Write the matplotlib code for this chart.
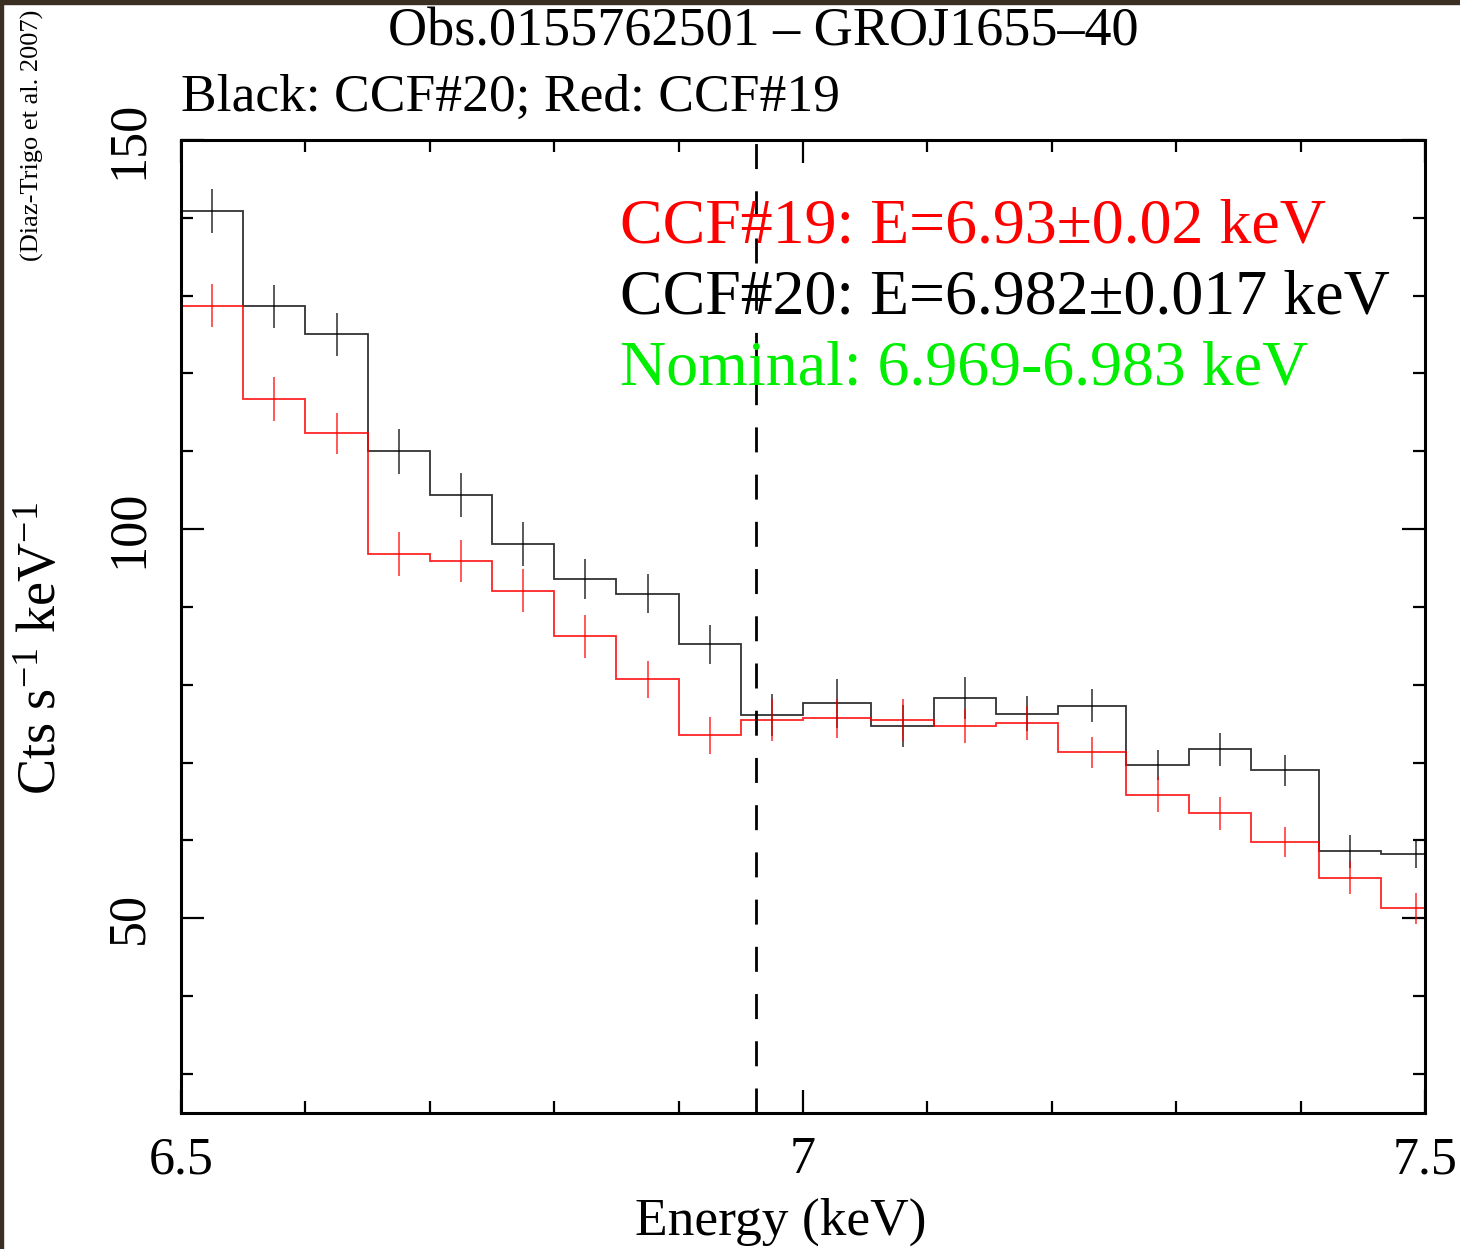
import matplotlib
matplotlib.use("Agg")
import matplotlib.pyplot as plt
import numpy as np
from matplotlib.patches import Rectangle
from matplotlib.ticker import FixedLocator, MultipleLocator

# energy bin edges (keV) and count rates per bin
BIN_EDGES = [6.50, 6.55, 6.60, 6.65, 6.70, 6.75, 6.80, 6.85, 6.90, 6.95, 7.00,
             7.055, 7.105, 7.155, 7.205, 7.26, 7.31, 7.36, 7.415, 7.465, 7.52]

CCF20_RATE = [140.9, 128.6, 125.0, 110.0, 104.4, 98.1, 93.6, 91.7, 85.2, 76.1,
              77.6, 74.7, 78.3, 76.3, 77.3, 69.7, 71.7, 69.0, 58.6, 58.3]
CCF20_ERR = [2.8, 2.8, 2.8, 2.9, 2.8, 2.8, 2.6, 2.5, 2.5, 2.7,
             3.1, 2.7, 2.7, 2.2, 2.1, 1.9, 2.1, 2.0, 2.1, 1.9]

CCF19_RATE = [128.7, 116.7, 112.3, 96.8, 95.9, 92.1, 86.2, 80.7, 73.5, 75.5,
              75.7, 75.5, 74.7, 75.1, 71.3, 65.9, 63.5, 59.8, 55.2, 51.3]
CCF19_ERR = [2.8, 2.8, 2.6, 2.8, 2.7, 2.8, 2.7, 2.4, 2.4, 2.7,
             2.5, 2.7, 2.2, 2.2, 2.0, 2.2, 2.1, 1.9, 2.1, 2.0]

LINE_ENERGY = 6.962
X_TICKS = [6.5, 7.0, 7.5]
X_TICK_LABELS = ["6.5", "7", "7.5"]
Y_TICKS = [50, 100, 150]

FIT_LABELS = [
    ("CCF#19: E=6.93\u00b10.02 keV", "#ff0000"),
    ("CCF#20: E=6.982\u00b10.017 keV", "black"),
    ("Nominal: 6.969-6.983 keV", "#00ee00"),
]

plt.rcParams["font.family"] = ["Liberation Serif", "DejaVu Serif"]
plt.rcParams["mathtext.fontset"] = "custom"
plt.rcParams["mathtext.rm"] = "Liberation Serif"
plt.rcParams["mathtext.it"] = "Liberation Serif:italic"

fig = plt.figure(figsize=(14.6, 12.49), dpi=100)
ax = fig.add_axes([0.124, 0.109, 0.852, 0.779])

edges = np.array(BIN_EDGES)
centers = 0.5 * (edges[:-1] + edges[1:])

ax.stairs(CCF20_RATE, edges, color="black", lw=1.3, alpha=0.8)
ax.errorbar(centers, CCF20_RATE, yerr=CCF20_ERR, fmt="none",
            ecolor="black", elinewidth=1.3, alpha=0.7)
ax.stairs(CCF19_RATE, edges, color="#ff0000", lw=1.3, alpha=0.85)
ax.errorbar(centers, CCF19_RATE, yerr=CCF19_ERR, fmt="none",
            ecolor="#ff0000", elinewidth=1.3, alpha=0.7)

ax.axvline(LINE_ENERGY, color="black", lw=2.0, dashes=(9, 8))

ax.set_xlim(6.5, 7.5)
ax.set_ylim(25, 150)

ax.xaxis.set_major_locator(FixedLocator(X_TICKS))
ax.set_xticklabels(X_TICK_LABELS)
ax.xaxis.set_minor_locator(MultipleLocator(0.1))
ax.yaxis.set_major_locator(FixedLocator(Y_TICKS))
ax.yaxis.set_minor_locator(MultipleLocator(10))

ax.tick_params(which="both", direction="in", top=True, right=True, width=1.6)
ax.tick_params(which="major", length=16.5, labelsize=37.5)
ax.tick_params(which="minor", length=8.5)
ax.tick_params(axis="x", which="major", pad=17)
ax.tick_params(axis="y", which="major", pad=20)
for lbl in ax.get_yticklabels():
    lbl.set_rotation(90)
    lbl.set_va("center")

for spine in ax.spines.values():
    spine.set_linewidth(2.2)

ax.set_xlabel("Energy (keV)", fontsize=38.5)
ax.xaxis.set_label_coords(0.4823, -0.087)

fig.text(0.029, 0.481, "Cts s$^{-1}$ keV$^{-1}$", rotation=90,
         ha="center", va="center", fontsize=39)
fig.text(0.022, 0.892, "(Diaz-Trigo et al. 2007)", rotation=90,
         ha="center", va="center", fontsize=19)

fig.text(0.5226, 0.9745, "Obs.0155762501 \u2013 GROJ1655\u201340",
         ha="center", va="center", fontsize=39)
fig.text(0.124, 0.9215, "Black: CCF#20; Red: CCF#19",
         ha="left", va="center", fontsize=38.5)

for i, (txt, col) in enumerate(FIT_LABELS):
    ax.text(6.853, 136.8 - 9.1 * i, txt, color=col, fontsize=46,
            ha="left", va="baseline")

# thin dark frame along the top and left edges
frame = "#3b2f24"
fig.patches.append(Rectangle((0, 0.9965), 1, 0.0035, transform=fig.transFigure,
                             color=frame, zorder=10))
fig.patches.append(Rectangle((0, 0), 0.002, 1, transform=fig.transFigure,
                             color=frame, zorder=10))

fig.savefig("out.png", dpi=100)
